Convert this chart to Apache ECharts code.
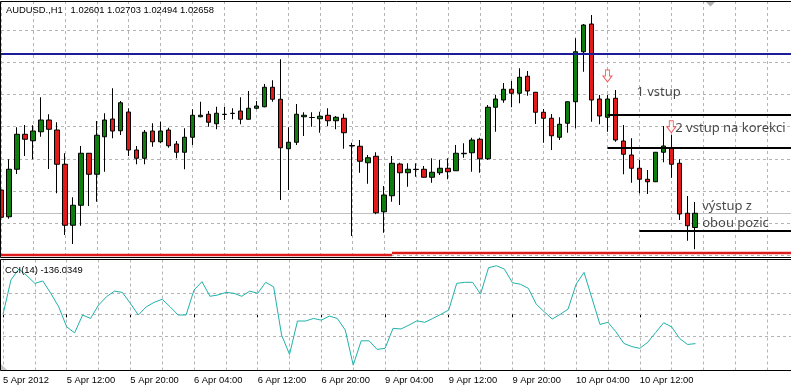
<!DOCTYPE html>
<html><head><meta charset="utf-8">
<script src="https://cdn.jsdelivr.net/npm/echarts@6/dist/echarts.min.js"></script>
<style>html,body{margin:0;padding:0;background:#fff}#c{width:791px;height:387px}</style>
</head><body><div id="c"></div>
<script>
// ---- data ----
const symbolTitle = 'AUDUSD.,H1';
const lastQuote = ['1.02601', '1.02703', '1.02494', '1.02658'];
const cciTitle = 'CCI(14) -136.0349';
const tickLabels = ['5 Apr 2012','5 Apr 12:00','5 Apr 20:00','6 Apr 04:00','6 Apr 12:00','6 Apr 20:00','9 Apr 04:00','9 Apr 12:00','9 Apr 20:00','10 Apr 04:00','10 Apr 12:00'];
const barsPerLabel = 8;
const slotCount = 100;   // hourly slots shown incl. right shift

const opens = [1.02751,1.02644,1.02834,1.02974,1.02948,1.02984,1.03031,1.02991,1.02854,1.02610,
1.02690,1.02898,1.02814,1.02964,1.03035,1.02988,1.03063,1.02911,1.02878,1.02987,
1.02944,1.02991,1.02935,1.02902,1.02962,1.03044,1.03054,1.03016,1.03053,1.03057,
1.03067,1.03034,1.03078,1.03084,1.03162,1.03114,1.02916,1.02942,1.03044,1.03041,
1.03036,1.03050,1.03028,1.03038,1.02929,1.02926,1.02860,1.02886,1.02664,1.02728,
1.02855,1.02820,1.02833,1.02834,1.02802,1.02820,1.02838,1.02828,1.02896,1.02900,
1.02954,1.02876,1.03082,1.03111,1.03154,1.03138,1.03206,1.03142,1.03062,1.03038,
1.02962,1.03018,1.03104,1.03304,1.03415,1.03115,1.03042,1.03118,1.02947,1.02891,
1.02838,1.02794,1.02784,1.02902,1.02918,1.02858,1.02658,1.02601];
const highs = [1.02755,1.02874,1.03002,1.03011,1.03010,1.03122,1.03054,1.03022,1.02898,1.02722,
1.02927,1.02899,1.03027,1.03058,1.03158,1.03107,1.03078,1.02927,1.02991,1.03018,
1.03024,1.03000,1.02947,1.02998,1.03074,1.03104,1.03067,1.03084,1.03084,1.03078,
1.03122,1.03147,1.03107,1.03175,1.03190,1.03274,1.03002,1.03095,1.03062,1.03062,
1.03064,1.03078,1.03047,1.03056,1.02940,1.02951,1.02891,1.02902,1.02767,1.02887,
1.02860,1.02858,1.02858,1.02847,1.02878,1.02871,1.02878,1.02931,1.02938,1.02960,
1.02960,1.03091,1.03131,1.03179,1.03187,1.03238,1.03227,1.03143,1.03075,1.03055,
1.03042,1.03105,1.03358,1.03415,1.03451,1.03131,1.03131,1.03151,1.03011,1.02958,
1.02871,1.02831,1.02903,1.03007,1.02971,1.02874,1.02727,1.02703];
const lows = [1.02563,1.02636,1.02815,1.02887,1.02874,1.02964,1.02835,1.02738,1.02571,1.02535,
1.02608,1.02687,1.02704,1.02824,1.02958,1.02971,1.02887,1.02854,1.02854,1.02924,
1.02938,1.02920,1.02878,1.02834,1.02931,1.03042,1.03004,1.02994,1.03031,1.03034,
1.03014,1.03033,1.03074,1.03082,1.03104,1.02711,1.02751,1.02931,1.02967,1.03004,
1.02980,1.03007,1.02994,1.02916,1.02567,1.02820,1.02776,1.02654,1.02580,1.02704,
1.02691,1.02764,1.02804,1.02801,1.02780,1.02811,1.02794,1.02827,1.02880,1.02824,
1.02820,1.02871,1.02984,1.03100,1.03082,1.03098,1.03128,1.03015,1.02940,1.02911,
1.02951,1.02980,1.02998,1.03224,1.03024,1.03014,1.02984,1.02944,1.02814,1.02780,
1.02738,1.02735,1.02783,1.02862,1.02800,1.02631,1.02548,1.02514];
const closes = [1.02642,1.02834,1.02974,1.02954,1.02987,1.03031,1.02994,1.02854,1.02610,1.02690,
1.02898,1.02814,1.02970,1.03031,1.02987,1.03100,1.02911,1.02878,1.02982,1.02944,
1.02987,1.02928,1.02902,1.02962,1.03050,1.03050,1.03022,1.03058,1.03054,1.03058,
1.03034,1.03078,1.03087,1.03162,1.03114,1.02920,1.02942,1.03054,1.03050,1.03041,
1.03046,1.03028,1.03042,1.02980,1.02927,1.02866,1.02880,1.02660,1.02731,1.02858,
1.02820,1.02834,1.02834,1.02802,1.02822,1.02838,1.02824,1.02898,1.02898,1.02951,
1.02876,1.03082,1.03115,1.03154,1.03138,1.03202,1.03147,1.03062,1.03038,1.02968,
1.03014,1.03104,1.03304,1.03411,1.03111,1.03047,1.03115,1.02951,1.02894,1.02838,
1.02794,1.02784,1.02902,1.02927,1.02854,1.02655,1.02608,1.02658];
const cciValues = [0,160,211,180,144,155,98,35,-58,-86,
-3,-19,43,82,108,102,51,-3,35,56,
70,35,-3,-3,113,152,84,90,102,98,
84,108,98,149,128,-96,-186,-31,-31,-19,
-27,-8,-19,-73,-236,-123,-123,-163,-158,-65,
-68,-50,-30,-37,-19,0,20,144,149,149,
94,217,226,210,147,140,121,47,12,-22,
0,25,140,195,74,-47,-37,-81,-135,-150,
-158,-130,-84,-39,-58,-112,-140,-136];
const cciLevels = [100, 0, -100];

const resistanceLevel = 1.03297;            // blue line
const supportLeft = {from: 0, to: 49, price: 1.02494};
const supportRight = {from: 49, to: 99, price: 1.02500};
const bidPrice = 1.02658;
const tradeLines = [{from: 76, price: 1.03051}, {from: 76, price: 1.02920}, {from: 80, price: 1.02588}];
const sellArrows = [[76, 1.03207], [84, 1.03004]];
const notes = [
  {k: 80, price: 1.03140, text: '1 vstup', dx: -3},
  {k: 84, price: 1.02998, text: '2 vstup na korekci', dx: 4},
  {k: 88, price: 1.02687, text: 'výstup z', dx: -1},
  {k: 88, price: 1.02618, text: 'obou pozic', dx: -1}
];
// ---- chart ----
const categories = Array.from({length: slotCount}, (_, i) => String(i));
const ohlc = opens.map((o, i) => [o, closes[i], lows[i], highs[i]]);
const lastSlot = slotCount - 1;
const smallFont = {fontFamily: '"Liberation Sans", Arial, sans-serif', fontSize: 9.4, color: '#000'};
const gridDash = {color: '#b4b4b4', type: [3, 3], width: 1, opacity: 1};

const chart = echarts.init(document.getElementById('c'), null, {renderer: 'canvas'});
const hline = (from, to, price) => [{coord: [from, price]}, {coord: [to, price]}];
const lineStyles = [
  {color: '#1c1c98', width: 2.2, type: 'solid'},
  {color: '#de1c1c', width: 2.4, type: 'solid'},
  {color: '#de1c1c', width: 2.4, type: 'solid'},
  {color: '#000', width: 2, type: 'solid'},
  {color: '#000', width: 2, type: 'solid'},
  {color: '#000', width: 2, type: 'solid'}
];
const overlayLines = [
  hline(0, lastSlot, resistanceLevel),
  hline(supportLeft.from, supportLeft.to, supportLeft.price),
  hline(supportRight.from, supportRight.to, supportRight.price)
].concat(tradeLines.map(t => hline(t.from, lastSlot, t.price)))
 .map((d, idx) => [Object.assign({}, d[0], {lineStyle: lineStyles[idx]}), d[1]]);

chart.setOption({
  animation: false,
  backgroundColor: '#fff',
  grid: [
    {left: 1, right: -2, top: 1, height: 254.5},
    {left: 1, right: -2, top: 259.5, height: 111}
  ],
  xAxis: [
    {type: 'category', gridIndex: 0, data: categories, boundaryGap: false,
     axisLine: {show: false}, axisTick: {show: false}, axisLabel: {show: false},
     splitLine: {show: true, interval: 3, lineStyle: gridDash}},
    {type: 'category', gridIndex: 1, data: categories, boundaryGap: false,
     axisLine: {show: false},
     axisTick: {show: true, length: 3, interval: (i) => i % barsPerLabel === 0 && i / barsPerLabel < tickLabels.length, lineStyle: {color: '#000'}},
     axisLabel: Object.assign({show: true, align: 'left', margin: 5,
       interval: (i) => i % barsPerLabel === 0 && i / barsPerLabel < tickLabels.length,
       formatter: (v, i) => tickLabels[i / barsPerLabel] || ''}, smallFont),
     splitLine: {show: true, interval: 3, lineStyle: gridDash}}
  ],
  yAxis: [
    {type: 'value', gridIndex: 0, min: 1.02489, max: 1.03507, interval: 0.001288, scale: true,
     axisLine: {show: false}, axisTick: {show: false}, axisLabel: {show: false},
     splitLine: {show: true, lineStyle: gridDash}},
    {type: 'value', gridIndex: 1, min: -261, max: 255,
     axisLine: {show: false}, axisTick: {show: false}, axisLabel: {show: false},
     splitLine: {show: false}}
  ],
  series: [
    {type: 'line', xAxisIndex: 0, yAxisIndex: 0, data: [], silent: true,
     markLine: {silent: true, symbol: ['none', 'none'], z: 1, label: {show: false}, emphasis: {disabled: true},
       lineStyle: {color: '#c0c0c0', width: 1, type: 'solid'},
       data: [hline(0, lastSlot, bidPrice)]}},
    {type: 'candlestick', xAxisIndex: 0, yAxisIndex: 0, data: ohlc, barWidth: 5, silent: true,
     itemStyle: {color: '#0d7d0d', color0: '#e21a1a', borderColor: '#000', borderColor0: '#000', borderColorDoji: '#000', borderWidth: 1},
     markLine: {silent: true, symbol: ['none', 'none'], label: {show: false}, emphasis: {disabled: true}, z: 5,
       data: overlayLines}},
    {type: 'scatter', xAxisIndex: 0, yAxisIndex: 0, silent: true, z: 6,
     data: sellArrows,
     symbol: 'path://M2.5,0 L6.5,0 L6.5,6 L9,6 L4.5,12 L0,6 L2.5,6 Z',
     symbolSize: [9, 12],
     itemStyle: {color: '#fff', borderColor: '#f03434', borderWidth: 1}},
    {type: 'scatter', xAxisIndex: 0, yAxisIndex: 0, silent: true, z: 7,
     symbol: 'circle', symbolSize: 0,
     data: notes.map(n => ({value: [n.k, n.price], name: n.text, label: {offset: [n.dx, 0]}})),
     label: {show: true, position: 'right', distance: 0, formatter: (p) => p.name,
       fontFamily: '"Noto Sans", "Open Sans", sans-serif', fontSize: 13, color: '#1a1a1a'}},
    {type: 'line', xAxisIndex: 1, yAxisIndex: 1, data: cciValues, silent: true,
     symbol: 'none', lineStyle: {color: '#20b2aa', width: 1},
     markLine: {silent: true, symbol: ['none', 'none'], z: 1, label: {show: false}, emphasis: {disabled: true},
       lineStyle: gridDash,
       data: cciLevels.map(v => [{coord: [0, v]}, {coord: [lastSlot, v]}])}}
  ],
  graphic: [
    {type: 'rect', z: 100, silent: true, shape: {x: 0.5, y: 1.5, width: 800, height: 256}, style: {fill: 'none', stroke: '#000', lineWidth: 1}},
    {type: 'rect', z: 100, silent: true, shape: {x: 0.5, y: 259.5, width: 800, height: 111}, style: {fill: 'none', stroke: '#000', lineWidth: 1}},
    {type: 'polygon', z: 100, silent: true, shape: {points: [[706, 2], [715, 2], [710.5, 6.5]]}, style: {fill: '#b0b0b0'}},
    {type: 'polygon', z: 100, silent: true, shape: {points: [[1, 364], [7, 370], [1, 370]]}, style: {fill: '#c8c8c8'}},
    {type: 'text', z: 100, silent: true, x: 6, y: 10, style: {text: symbolTitle + '   ' + lastQuote.join(' '), font: '9.4px "Liberation Sans", Arial, sans-serif', fill: '#000', verticalAlign: 'middle'}},
    {type: 'text', z: 100, silent: true, x: 5, y: 270, style: {text: cciTitle, font: '9.4px "Liberation Sans", Arial, sans-serif', fill: '#000', verticalAlign: 'middle'}}
  ]
});
</script></body></html>
